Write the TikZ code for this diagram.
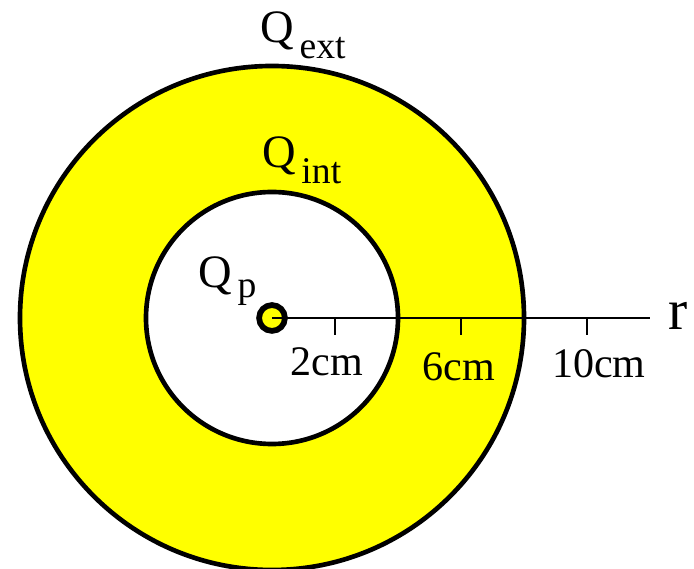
\documentclass[tikz,border=0pt]{standalone}
\usepackage{fontspec}
\setmainfont{Liberation Serif}
\usepackage{tikz}
\usetikzlibrary{positioning}
\definecolor{shellyellow}{RGB}{255, 255, 0}
\tikzset{
  shell/.style={draw, line width=2.1pt},
  chargenode/.style={circle, draw, fill=shellyellow, line width=2.6pt, minimum size=0.41cm, inner sep=0pt},
  axisline/.style={line width=1.1pt},
  qlabel/.style={anchor=base west, inner sep=0pt, font=\fontsize{21}{25}\selectfont},
  ticklabel/.style={anchor=base, inner sep=0pt, font=\fontsize{19}{22}\selectfont},
}
\newcommand{\qsub}[2]{Q\hspace{2.5pt}\raisebox{-#2}{\fontsize{17}{20}\selectfont #1}}

\begin{document}
\begin{tikzpicture}[x=0.5cm, y=0.5cm]
  \useasboundingbox (-8.635,-7.937) rectangle (13.397,10.095);
  % charged shell
  \fill[shellyellow, even odd rule] (0,0) circle (8) (0,0) circle (4);
  \draw[shell] (0,0) circle (8);
  \draw[shell] (0,0) circle (4);
  % point charge and radial axis
  \node[chargenode] (qp) at (0,0) {};
  \coordinate (rend) at (12,0);
  \draw[axisline] (qp.center) -- (rend);
  \foreach \t in {2,6,10} \draw[axisline] (\t,0) -- (\t,-0.54);
  \node[ticklabel] (l2) at (1.75,-1.81) {2cm};
  \node[ticklabel] (l6) at (5.94,-1.97) {6cm};
  \node[ticklabel] (l10) at (10.38,-1.90) {10cm};
  \node[qlabel, font=\fontsize{26}{30}\selectfont] (rlab) at (12.57,-0.38) {r};
  % charge labels
  \node[qlabel] (qext) at (-0.38,8.73) {\qsub{ext}{7pt}};
  \node[qlabel] (qint) at (-0.32,4.79) {\qsub{int}{7.2pt}};
  \node[qlabel] (qpl) at (-2.35,0.98) {\qsub{p}{4.5pt}};
\end{tikzpicture}
\end{document}
